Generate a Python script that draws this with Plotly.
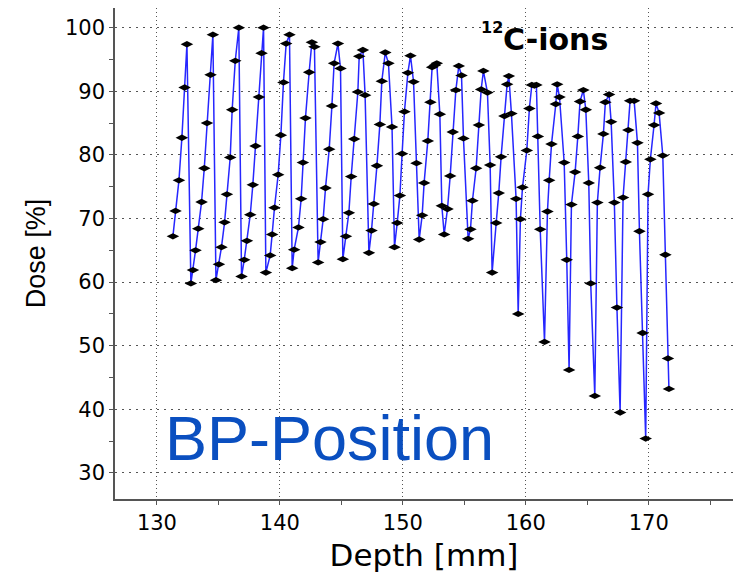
import plotly.graph_objects as go

depth = [
    131.30, 131.51, 131.79, 132.03, 132.25, 132.44,
    132.76, 132.93, 133.14, 133.36, 133.63, 133.85, 134.07, 134.36, 134.55,
    134.80, 135.04, 135.25, 135.50, 135.69, 135.96, 136.12, 136.37, 136.66,
    136.88, 137.10, 137.32, 137.59, 137.80, 138.02, 138.29, 138.51, 138.67,
    138.86, 139.21, 139.37, 139.56, 139.86, 140.08, 140.29, 140.51, 140.78,
    141.00, 141.16, 141.51, 141.73, 141.87, 142.08, 142.38, 142.60, 142.81,
    143.11, 143.30, 143.52, 143.71, 144.01, 144.23, 144.41, 144.72, 144.93,
    145.12, 145.37, 145.61, 145.80, 146.04, 146.34, 146.45, 146.75, 146.93,
    147.24, 147.45, 147.64, 147.89, 148.13, 148.29, 148.57, 148.83, 149.12,
    149.32, 149.54, 149.76, 149.94, 150.13, 150.41, 150.62, 150.87, 151.11,
    151.33, 151.57, 151.73, 152.03, 152.24, 152.38, 152.60, 152.76, 153.01, 153.17,
    153.36, 153.63, 153.85, 154.06, 154.31, 154.55, 154.77, 154.93,
    155.31, 155.50, 155.66, 155.96, 156.18, 156.37, 156.55, 156.88, 157.10,
    157.26, 157.59, 157.80, 157.99, 158.26, 158.48, 158.62, 158.83, 159.21,
    159.38, 159.56, 159.73, 160.08, 160.29, 160.49, 160.70, 160.86, 160.98, 161.17,
    161.52, 161.76, 161.90, 162.09, 162.44, 162.55, 162.74, 163.12, 163.33,
    163.52, 163.71, 164.01, 164.23, 164.41, 164.68, 164.88, 165.12, 165.28,
    165.61, 165.82, 166.04, 166.31, 166.47, 166.77, 166.94, 167.20, 167.41,
    167.67, 167.91, 168.13, 168.34, 168.48, 168.81, 169.08, 169.24, 169.50,
    169.75, 169.94, 170.13, 170.43, 170.59, 170.84, 171.14, 171.35, 171.56, 171.64,
]

dose = [
    67.2, 71.2, 76.0, 82.7, 90.6, 97.4,
    59.8, 61.9, 65.0, 68.4, 72.6, 77.9, 85.0, 92.6, 98.9,
    60.3, 62.8, 65.5, 69.4, 73.8, 79.6, 87.1, 94.8, 100.0,
    60.9, 63.5, 66.5, 70.6, 75.3, 81.4, 89.1, 96.0, 100.0,
    61.5, 64.2, 67.5, 71.7, 76.9, 83.1, 91.4, 97.5, 98.9,
    62.2, 65.1, 68.6, 73.1, 78.8, 85.8, 93.0, 97.7, 97.0,
    63.1, 66.3, 69.9, 74.8, 80.9, 87.7, 94.4, 97.5, 93.6,
    63.6, 67.2, 70.9, 76.6, 82.5, 89.9, 95.5, 96.5, 89.4,
    64.6, 68.1, 72.3, 78.3, 84.8, 91.6, 96.1, 94.4, 84.4,
    65.5, 69.3, 73.6, 80.2, 86.8, 92.9, 95.6, 91.5, 78.7,
    66.7, 70.5, 75.6, 82.2, 88.3, 93.8, 94.1, 94.4, 86.4, 72.0,
    67.5, 71.5, 76.7, 83.6, 90.2, 94.0, 92.5, 82.6,
    66.8, 68.3, 72.8, 77.9, 84.7, 90.3, 93.2, 89.8, 78.4,
    61.5, 69.3, 74.0, 79.7, 86.1, 91.1, 92.4, 86.5, 73.1,
    55.0, 69.9, 74.9, 80.7, 87.3, 91.0, 90.9, 91.0, 82.9, 68.3,
    50.6, 71.1, 76.0, 81.7, 88.0, 91.1, 89.1, 78.8, 63.5,
    46.2, 72.2, 77.3, 82.9, 88.4, 90.2, 87.1, 75.6, 59.8,
    42.1, 72.5, 78.0, 83.3, 88.3, 89.5, 85.2, 72.5, 56.0,
    39.5, 73.3, 78.9, 83.9, 88.5, 88.5, 81.9, 68.0, 52.0,
    35.4, 73.8, 79.3, 84.7, 88.1, 86.6, 79.9, 64.3, 48.0, 43.2,
]

x_ticks = [130, 140, 150, 160, 170]
y_ticks = [30, 40, 50, 60, 70, 80, 90, 100]

fig = go.Figure()
fig.add_trace(go.Scatter(
    x=depth, y=dose, mode="lines+markers",
    line=dict(color="#2626ff", width=1.5),
    marker=dict(symbol="diamond-wide", size=9, color="black"),
    showlegend=False,
))

axis_common = dict(
    showline=True, linecolor="#555555", linewidth=1.5,
    ticks="outside", ticklen=4, tickcolor="#555555", tickwidth=1.2,
    showgrid=True, gridcolor="#555555", gridwidth=1,
    zeroline=False, mirror=False,
    tickfont=dict(family="DejaVu Sans", size=21, color="black"),
)

fig.update_xaxes(
    range=[126.59, 176.85], tickvals=x_ticks,
    griddash="1px,3px",
    minor=dict(dtick=5, tick0=125, ticks="outside", ticklen=4, tickcolor="#555555", showgrid=False),
    title=dict(text="Depth [mm]", font=dict(family="DejaVu Sans", size=31, color="black"), standoff=10),
    **axis_common,
)
fig.update_yaxes(
    range=[25.9, 103.1], tickvals=y_ticks,
    griddash="2px,5px",
    minor=dict(dtick=5, tick0=25, ticks="outside", ticklen=4, tickcolor="#555555", showgrid=False),
    title=dict(text="Dose [%]", font=dict(family="Liberation Sans", size=27, color="black"), standoff=12),
    **axis_common,
)

fig.add_annotation(
    xref="paper", yref="paper", x=0.0777, y=0.124, xanchor="left", yanchor="middle",
    text="BP-Position", showarrow=False,
    font=dict(family="Liberation Sans", size=63, color="#0a4fc0"),
)
fig.add_annotation(
    xref="paper", yref="paper", x=0.6246, y=0.936, xanchor="left", yanchor="middle",
    text="<b>C-ions</b>", showarrow=False,
    font=dict(family="DejaVu Sans", size=30, color="black"),
)
fig.add_annotation(
    xref="paper", yref="paper", x=0.631, y=0.960, xanchor="right", yanchor="middle",
    text="<b>12</b>", showarrow=False,
    font=dict(family="DejaVu Sans", size=16, color="black"),
)

fig.update_layout(
    width=733, height=577,
    margin=dict(l=115, r=0, t=8, b=78),
    plot_bgcolor="white", paper_bgcolor="white",
)

fig.write_html("out.html")
